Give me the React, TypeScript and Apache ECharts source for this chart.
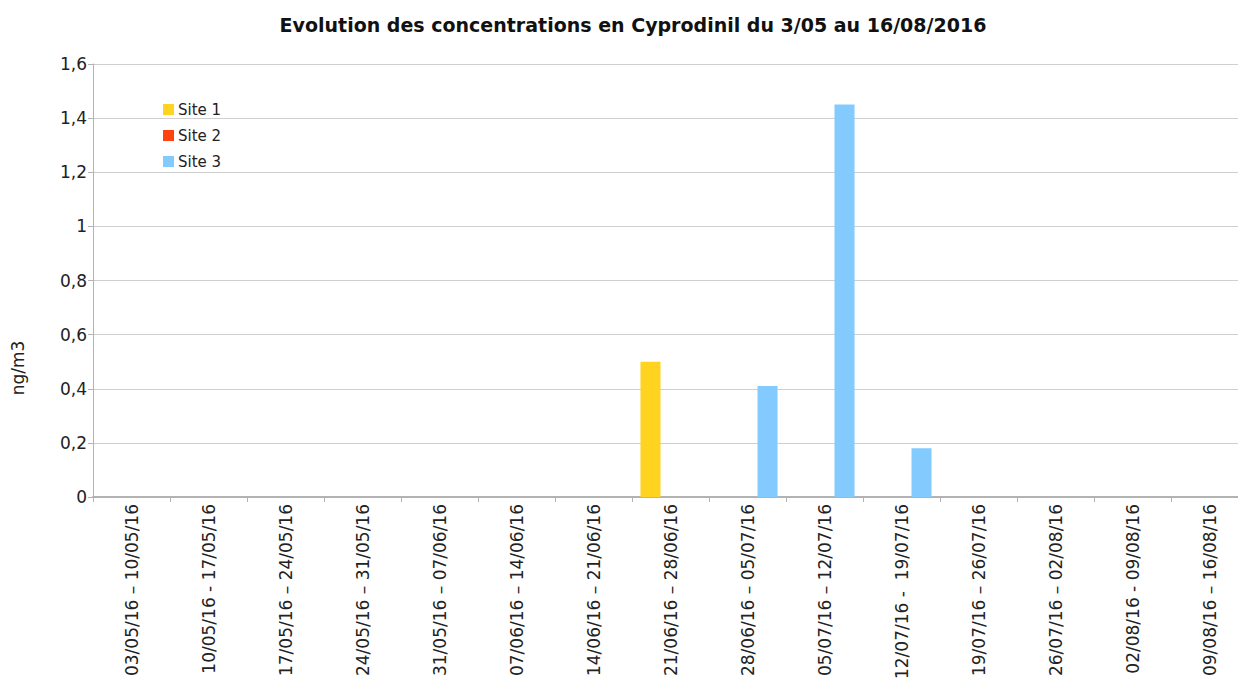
import React, { useEffect, useRef } from "react";
import * as echarts from "echarts";

const categories = [
  "03/05/16 – 10/05/16",
  "10/05/16 - 17/05/16",
  "17/05/16 – 24/05/16",
  "24/05/16 – 31/05/16",
  "31/05/16 – 07/06/16",
  "07/06/16 – 14/06/16",
  "14/06/16 – 21/06/16",
  "21/06/16 – 28/06/16",
  "28/06/16 – 05/07/16",
  "05/07/16 – 12/07/16",
  "12/07/16 -  19/07/16",
  "19/07/16 – 26/07/16",
  "26/07/16 – 02/08/16",
  "02/08/16 - 09/08/16",
  "09/08/16 – 16/08/16",
];
const site1 = [0, 0, 0, 0, 0, 0, 0, 0.5, 0, 0, 0, 0, 0, 0, 0];
const site2 = [0, 0, 0, 0, 0, 0, 0, 0, 0, 0, 0, 0, 0, 0, 0];
const site3 = [0, 0, 0, 0, 0, 0, 0, 0, 0.41, 1.45, 0.18, 0, 0, 0, 0];
const yTicks = { min: 0, max: 1.6, interval: 0.2 };

const FONT = "'DejaVu Sans', sans-serif";

export default function App() {
  const ref = useRef<HTMLDivElement>(null);
  useEffect(() => {
    if (!ref.current) return;
    const chart = echarts.init(ref.current, undefined, { renderer: "svg" });
    chart.setOption({
      animation: false,
      textStyle: { fontFamily: FONT },
      title: {
        text: "Evolution des concentrations en Cyprodinil du 3/05 au 16/08/2016",
        left: 628,
        textAlign: "center",
        top: 10,
        textStyle: { fontFamily: FONT, fontSize: 19, fontWeight: "bold", color: "#111" },
      },
      legend: {
        orient: "vertical",
        left: 158,
        top: 97,
        itemWidth: 11,
        itemHeight: 11,
        itemGap: 11,
        icon: "rect",
        textStyle: { fontFamily: FONT, fontSize: 15, color: "#222", padding: [0, 0, 0, -1] },
        data: ["Site 1", "Site 2", "Site 3"],
      },
      grid: { left: 93, right: 2, top: 64, bottom: 182, containLabel: false, outerBoundsMode: "none" },
      xAxis: {
        type: "category",
        data: categories,
        axisLine: { lineStyle: { color: "#b3b3b3", width: 2 } },
        axisTick: { show: true, length: 5, lineStyle: { color: "#b3b3b3" } },
        axisLabel: { rotate: 90, margin: 7, fontSize: 17, color: "#222", fontFamily: FONT, interval: 0 },
      },
      yAxis: {
        type: "value",
        min: yTicks.min,
        max: yTicks.max,
        interval: yTicks.interval,
        axisLine: { show: true, lineStyle: { color: "#b3b3b3" } },
        axisTick: { show: true, length: 5, lineStyle: { color: "#b3b3b3" } },
        splitLine: { lineStyle: { color: "#cfcfcf" } },
        axisLabel: {
          fontSize: 17,
          color: "#222",
          fontFamily: FONT,
          margin: 6,
          formatter: (v: number) => String(Math.round(v * 10) / 10).replace(".", ","),
        },
      },
      graphic: [
        {
          type: "text",
          x: 18,
          y: 368,
          rotation: Math.PI / 2,
          style: { text: "ng/m3", fontSize: 17, fontFamily: FONT, fill: "#222", align: "center", verticalAlign: "middle" },
        },
      ],
      series: [
        { name: "Site 1", type: "bar", data: site1, itemStyle: { color: "#FFD320" }, barGap: "0%", barCategoryGap: "22%" },
        { name: "Site 2", type: "bar", data: site2, itemStyle: { color: "#FF420E" }, barGap: "0%", barCategoryGap: "22%" },
        { name: "Site 3", type: "bar", data: site3, itemStyle: { color: "#83CAFF" }, barGap: "0%", barCategoryGap: "22%" },
      ],
    });
    return () => chart.dispose();
  }, []);
  return (
    <div style={{ position: "absolute", left: 0, top: 0, width: 1238, height: 679, overflow: "hidden", background: "#fff" }}>
      <div ref={ref} style={{ width: 1250, height: 679 }} />
    </div>
  );
}
